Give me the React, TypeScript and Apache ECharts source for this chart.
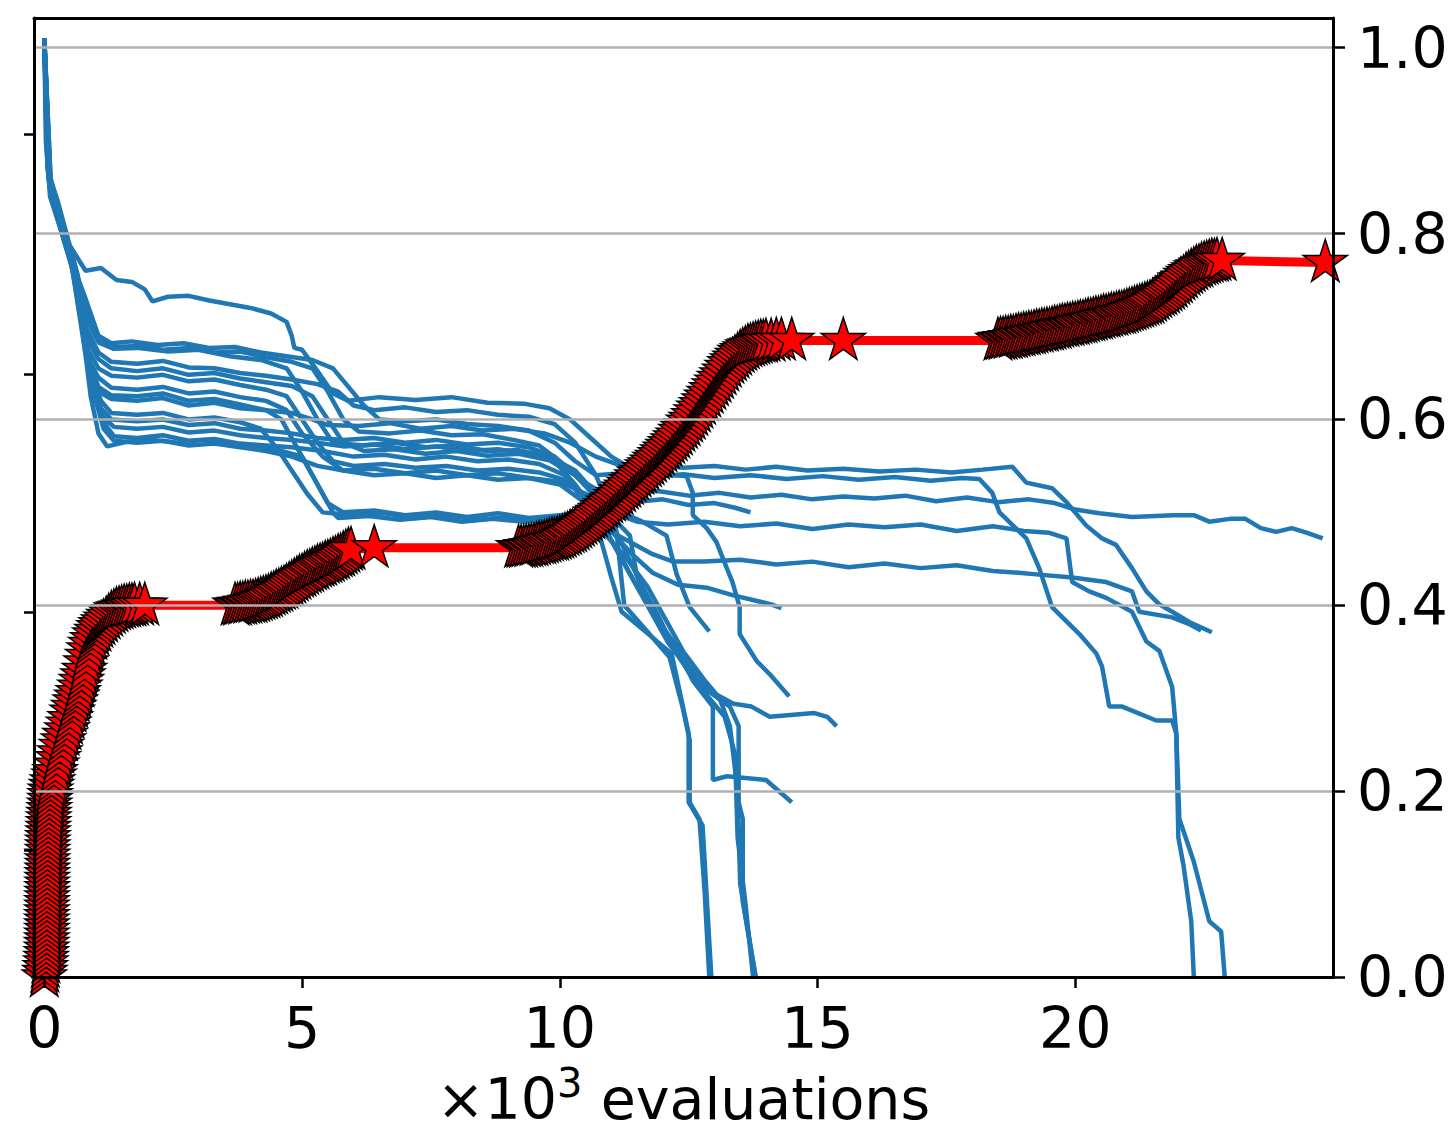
import React, { useEffect, useRef } from "react";
import * as echarts from "echarts";

// ---------- data (x in 10^3 evaluations) ----------
const xTicks = [0, 5, 10, 15, 20];
const yTicks = [0, 0.2, 0.4, 0.6, 0.8, 1.0];
const leftTicks = [0.136, 0.393, 0.649, 0.907];

const run01 = [[0,1.01],[0.03,0.9],[0.1,0.85],[0.35,0.8],[0.8,0.76],[1.1,0.763],[1.4,0.75],[1.7,0.748],[1.95,0.74],[2.1,0.727],[2.4,0.732],[2.8,0.733],[3.2,0.728],[3.6,0.724],[4.0,0.72],[4.4,0.714],[4.7,0.705],[4.8,0.69],[4.85,0.677],[5.0,0.675],[5.3,0.652],[5.6,0.628],[5.9,0.62],[6.5,0.624],[7.2,0.621],[7.9,0.624],[8.6,0.618],[9.3,0.617],[9.8,0.612],[10.2,0.6],[10.6,0.58],[11.0,0.56],[11.3,0.55],[11.8,0.553],[12.4,0.548],[13.0,0.55],[13.6,0.546],[14.2,0.549],[14.8,0.545],[15.5,0.547],[16.2,0.544],[16.9,0.546],[17.6,0.543],[18.2,0.546],[18.78,0.549],[19.05,0.532],[19.55,0.526],[19.83,0.511],[20.21,0.486],[20.52,0.472],[20.79,0.465],[21.1,0.44],[21.38,0.415],[21.63,0.401],[21.88,0.393],[22.21,0.382],[22.65,0.371]];
const run02 = [[0,1.01],[0.05,0.89],[0.11,0.84],[0.4,0.79],[0.8,0.73],[1.05,0.69],[1.3,0.682],[1.7,0.684],[2.2,0.68],[2.7,0.682],[3.2,0.677],[3.7,0.678],[4.2,0.672],[4.7,0.668],[5.2,0.664],[5.6,0.655],[5.9,0.635],[6.2,0.615],[6.5,0.6],[7.0,0.598],[7.6,0.6],[8.2,0.595],[8.8,0.593],[9.4,0.588],[9.9,0.575],[10.3,0.555],[10.7,0.54],[11.2,0.542],[11.8,0.538],[12.4,0.541],[13.0,0.537],[13.7,0.54],[14.4,0.536],[15.1,0.539],[15.8,0.535],[16.5,0.538],[17.2,0.534],[17.8,0.537],[18.14,0.536],[18.39,0.521],[18.53,0.5],[19.05,0.472],[19.3,0.44],[19.55,0.398],[20.08,0.369],[20.41,0.348],[20.52,0.334],[20.66,0.291],[20.91,0.291],[21.57,0.276],[21.88,0.276],[21.96,0.262],[22.0,0.15],[22.1,0.12],[22.25,0.06],[22.3,0]];
const run03 = [[0,1.01],[0.06,0.88],[0.14,0.84],[0.42,0.785],[0.8,0.72],[1.05,0.688],[1.35,0.678],[1.8,0.679],[2.3,0.675],[2.8,0.677],[3.3,0.672],[3.8,0.673],[4.3,0.667],[4.8,0.662],[5.2,0.655],[5.5,0.63],[5.8,0.6],[6.1,0.587],[6.7,0.585],[7.3,0.588],[7.9,0.583],[8.5,0.584],[9.1,0.578],[9.6,0.572],[10.0,0.555],[10.4,0.535],[10.8,0.522],[11.3,0.52],[11.9,0.523],[12.5,0.518],[13.1,0.521],[13.7,0.516],[14.3,0.519],[14.9,0.514],[15.5,0.517],[16.1,0.515],[16.7,0.518],[17.3,0.512],[17.9,0.516],[18.5,0.511],[19.1,0.514],[19.6,0.51],[20.0,0.503],[20.47,0.499],[21.1,0.495],[21.9,0.497],[22.3,0.497],[22.6,0.49],[23.0,0.493],[23.3,0.493],[23.6,0.483],[23.9,0.479],[24.2,0.483],[24.5,0.478],[24.8,0.472]];
const run04 = [[0,1.01],[0.08,0.87],[0.16,0.835],[0.45,0.78],[0.8,0.71],[1.05,0.683],[1.35,0.676],[1.8,0.677],[2.4,0.673],[3.0,0.675],[3.6,0.668],[4.2,0.664],[4.7,0.655],[5.0,0.63],[5.3,0.6],[5.6,0.575],[6.2,0.572],[6.8,0.575],[7.4,0.57],[8.0,0.572],[8.6,0.566],[9.2,0.567],[9.8,0.56],[10.3,0.545],[10.7,0.52],[11.0,0.49],[11.3,0.455],[11.6,0.42],[11.9,0.39],[12.2,0.355],[12.6,0.319],[12.95,0.305],[13.3,0.291],[13.47,0.27],[13.47,0.188],[13.55,0.17],[13.55,0.081],[13.8,0]];
const run05 = [[0,1.01],[0.09,0.86],[0.18,0.835],[0.48,0.78],[0.8,0.7],[1.05,0.672],[1.3,0.662],[1.8,0.66],[2.3,0.663],[2.8,0.656],[3.3,0.655],[3.8,0.65],[4.3,0.647],[4.8,0.643],[5.3,0.638],[5.7,0.63],[6.0,0.615],[6.4,0.61],[7.0,0.613],[7.6,0.608],[8.2,0.61],[8.8,0.605],[9.4,0.603],[9.9,0.595],[10.3,0.575],[10.7,0.54],[11.0,0.5],[11.1,0.479],[11.25,0.4],[11.74,0.369],[12.13,0.344],[12.38,0.291],[12.52,0.255],[12.52,0.188],[12.71,0.17],[12.81,0.092],[12.9,0]];
const run06 = [[0,1.01],[0.06,0.87],[0.16,0.84],[0.5,0.775],[0.8,0.69],[1.05,0.665],[1.3,0.655],[1.8,0.652],[2.3,0.655],[2.8,0.648],[3.3,0.65],[3.8,0.644],[4.3,0.64],[4.8,0.636],[5.2,0.625],[5.5,0.6],[5.8,0.575],[6.2,0.566],[6.8,0.568],[7.4,0.563],[8.0,0.566],[8.6,0.561],[9.2,0.563],[9.8,0.556],[10.3,0.54],[10.7,0.52],[11.2,0.5],[11.6,0.49],[12.07,0.475],[12.27,0.433],[12.52,0.398],[12.9,0.372]];
const run07 = [[0,1.01],[0.1,0.86],[0.2,0.83],[0.5,0.775],[0.8,0.68],[1.05,0.655],[1.3,0.647],[1.8,0.645],[2.3,0.648],[2.8,0.641],[3.3,0.643],[3.8,0.637],[4.3,0.632],[4.7,0.625],[5.0,0.6],[5.3,0.575],[5.6,0.555],[6.0,0.55],[6.6,0.552],[7.2,0.548],[7.8,0.55],[8.4,0.545],[9.0,0.547],[9.6,0.543],[10.1,0.535],[10.6,0.51],[11.0,0.48],[11.4,0.455],[11.8,0.435],[12.3,0.422],[12.85,0.419],[13.35,0.411],[14.1,0.401],[14.3,0.397]];
const run08 = [[0,1.01],[0.07,0.87],[0.17,0.835],[0.52,0.77],[0.8,0.67],[1.05,0.645],[1.3,0.634],[1.8,0.632],[2.3,0.635],[2.8,0.628],[3.3,0.63],[3.8,0.624],[4.3,0.62],[4.7,0.61],[5.0,0.585],[5.4,0.56],[5.8,0.545],[6.4,0.547],[7.0,0.542],[7.6,0.545],[8.2,0.54],[8.8,0.542],[9.4,0.537],[10.0,0.533],[10.5,0.52],[11.0,0.5],[11.5,0.49],[12.1,0.487],[12.8,0.49],[13.5,0.485],[14.2,0.488],[14.9,0.482],[15.6,0.487],[16.3,0.484],[17.0,0.487],[17.7,0.48],[18.4,0.485],[19.0,0.48],[19.5,0.478],[19.83,0.472],[19.94,0.425],[20.27,0.415],[20.6,0.408],[21.1,0.393],[21.38,0.361],[21.63,0.351],[21.88,0.312],[21.96,0.262],[22.02,0.17],[22.3,0.124],[22.6,0.06],[22.83,0.049],[22.9,0]];
const run09 = [[0,1.01],[0.11,0.86],[0.22,0.83],[0.55,0.77],[0.85,0.665],[1.05,0.635],[1.3,0.626],[1.8,0.625],[2.3,0.628],[2.8,0.62],[3.3,0.622],[3.8,0.616],[4.3,0.61],[4.6,0.6],[4.9,0.57],[5.2,0.54],[5.5,0.51],[5.8,0.5],[6.4,0.502],[7.0,0.497],[7.6,0.5],[8.2,0.495],[8.8,0.499],[9.4,0.494],[10.0,0.497],[10.6,0.5],[11.2,0.505],[11.6,0.512],[12.0,0.514],[12.5,0.508],[13.0,0.51],[13.4,0.505],[13.7,0.5]];
const run10 = [[0,1.01],[0.08,0.86],[0.19,0.835],[0.55,0.765],[0.85,0.66],[1.05,0.63],[1.3,0.622],[1.8,0.62],[2.3,0.623],[2.8,0.615],[3.3,0.618],[3.8,0.612],[4.3,0.61],[4.8,0.607],[5.2,0.6],[5.5,0.594],[6.1,0.593],[6.7,0.596],[7.3,0.59],[7.9,0.593],[8.5,0.588],[9.1,0.59],[9.7,0.585],[10.2,0.575],[10.7,0.56],[11.2,0.55],[11.8,0.545],[12.2,0.54],[12.46,0.539],[12.58,0.521],[12.58,0.497],[12.85,0.483],[13.04,0.468],[13.24,0.44],[13.35,0.425],[13.49,0.398],[13.49,0.369],[13.82,0.34],[14.07,0.326],[14.45,0.302]];
const run11 = [[0,1.01],[0.12,0.86],[0.24,0.835],[0.58,0.765],[0.9,0.65],[1.1,0.62],[1.3,0.607],[1.8,0.605],[2.3,0.607],[2.8,0.6],[3.3,0.602],[3.8,0.597],[4.2,0.59],[4.5,0.57],[4.8,0.545],[5.1,0.52],[5.4,0.5],[6.0,0.497],[6.6,0.499],[7.2,0.494],[7.8,0.497],[8.4,0.492],[9.0,0.495],[9.6,0.49],[10.2,0.49],[10.8,0.485],[11.3,0.47],[11.8,0.455],[12.2,0.447],[12.8,0.447],[13.5,0.449],[14.2,0.444],[14.9,0.447],[15.6,0.441],[16.3,0.445],[17.0,0.44],[17.7,0.443],[18.4,0.437],[18.9,0.435],[19.3,0.433],[19.94,0.43],[20.6,0.425],[21.1,0.415],[21.24,0.393],[21.88,0.387],[22.2,0.38],[22.44,0.373]];
const run12 = [[0,1.01],[0.1,0.85],[0.21,0.83],[0.6,0.76],[0.9,0.645],[1.1,0.612],[1.3,0.6],[1.8,0.598],[2.3,0.6],[2.8,0.594],[3.3,0.596],[3.8,0.59],[4.3,0.588],[4.8,0.585],[5.3,0.58],[5.8,0.578],[6.4,0.58],[7.0,0.575],[7.6,0.578],[8.2,0.573],[8.8,0.575],[9.4,0.57],[9.9,0.56],[10.3,0.54],[10.8,0.51],[11.1,0.49],[11.36,0.475],[11.49,0.433],[11.74,0.398],[12.27,0.355],[12.58,0.319],[12.97,0.291],[12.97,0.212],[13.24,0.216],[14.0,0.212],[14.5,0.188]];
const run13 = [[0,1.01],[0.09,0.86],[0.23,0.835],[0.6,0.76],[0.9,0.64],[1.1,0.605],[1.35,0.592],[1.8,0.59],[2.3,0.592],[2.8,0.586],[3.3,0.588],[3.8,0.583],[4.3,0.58],[4.8,0.578],[5.3,0.575],[5.8,0.571],[6.4,0.573],[7.0,0.568],[7.6,0.571],[8.2,0.566],[8.8,0.568],[9.4,0.563],[9.9,0.555],[10.3,0.53],[10.7,0.5],[11.1,0.46],[11.5,0.42],[11.9,0.385],[12.3,0.35],[12.7,0.32],[13.0,0.305],[13.37,0.294],[13.72,0.291],[14.07,0.28],[14.94,0.284],[15.19,0.28],[15.37,0.27]];
const run14 = [[0,1.01],[0.12,0.85],[0.25,0.83],[0.62,0.755],[0.95,0.635],[1.15,0.597],[1.35,0.582],[1.8,0.58],[2.3,0.583],[2.8,0.577],[3.3,0.579],[3.8,0.574],[4.3,0.572],[4.8,0.57],[5.4,0.566],[6.0,0.56],[6.6,0.562],[7.2,0.557],[7.8,0.56],[8.4,0.555],[9.0,0.557],[9.6,0.552],[10.1,0.54],[10.5,0.51],[10.8,0.47],[11.0,0.43],[11.2,0.393],[11.72,0.369],[12.17,0.348],[12.5,0.262],[12.5,0.188],[12.77,0.163],[12.94,0]];
const run15 = [[0,1.01],[0.11,0.86],[0.26,0.835],[0.65,0.755],[0.95,0.63],[1.15,0.59],[1.35,0.577],[1.8,0.575],[2.3,0.577],[2.8,0.572],[3.3,0.574],[3.8,0.57],[4.3,0.566],[4.8,0.56],[5.3,0.55],[5.8,0.545],[6.4,0.54],[7.0,0.542],[7.6,0.537],[8.2,0.54],[8.8,0.535],[9.4,0.537],[10.0,0.53],[10.5,0.51],[10.9,0.48],[11.3,0.44],[11.7,0.4],[12.1,0.36],[12.5,0.33],[12.9,0.3],[13.2,0.28],[13.4,0.24],[13.45,0.15],[13.6,0.08],[13.75,0]];
const run16 = [[0,1.01],[0.13,0.85],[0.24,0.83],[0.62,0.75],[0.9,0.625],[1.05,0.585],[1.22,0.571],[1.6,0.576],[2.1,0.578],[2.6,0.575],[3.1,0.578],[3.6,0.573],[4.1,0.57],[4.6,0.566],[5.0,0.56],[5.3,0.53],[5.6,0.5],[5.7,0.494],[6.3,0.496],[6.9,0.492],[7.5,0.495],[8.1,0.49],[8.7,0.493],[9.3,0.49],[9.9,0.494],[10.4,0.49],[10.9,0.475],[11.3,0.45],[11.7,0.42],[12.0,0.39],[12.4,0.35],[12.8,0.32],[13.1,0.3],[13.3,0.27],[13.45,0.2],[13.5,0.1],[13.8,0]];

const runs = [run01, run02, run03, run04, run05, run06, run07, run08, run09, run10, run11, run12, run13, run14, run15, run16];

// best-so-far curve, read segment by segment
const bestStart = [[0,0],[0.01,0.005],[0.02,0.01],[0.03,0.015],[0.035,0.02],[0.04,0.025],[0.045,0.03],[0.045,0.035],[0.05,0.04],[0.05,0.045],[0.05,0.05],[0.05,0.055],[0.05,0.06],[0.05,0.065],[0.05,0.07],[0.052,0.075],[0.052,0.08],[0.054,0.085],[0.054,0.09],[0.055,0.095],[0.055,0.1],[0.056,0.105],[0.057,0.11],[0.058,0.115],[0.06,0.12],[0.06,0.125],[0.062,0.13],[0.063,0.135],[0.065,0.14],[0.067,0.145],[0.07,0.15],[0.073,0.155],[0.077,0.16],[0.081,0.165],[0.086,0.17],[0.091,0.175],[0.097,0.18],[0.103,0.185],[0.11,0.19],[0.115,0.195],[0.12,0.2],[0.14,0.205],[0.16,0.21],[0.19,0.216],[0.21,0.221],[0.24,0.228],[0.27,0.235],[0.3,0.241],[0.33,0.248],[0.37,0.254],[0.4,0.26],[0.44,0.266],[0.47,0.272],[0.5,0.278],[0.54,0.285],[0.57,0.29],[0.6,0.296],[0.63,0.301],[0.66,0.306],[0.69,0.312],[0.72,0.318],[0.75,0.324],[0.78,0.33],[0.81,0.338],[0.84,0.345],[0.87,0.352],[0.9,0.358],[0.94,0.363],[0.98,0.368],[1.02,0.372],[1.06,0.376],[1.1,0.379],[1.15,0.382],[1.2,0.385],[1.25,0.388],[1.3,0.391],[1.35,0.393],[1.4,0.395],[1.45,0.396],[1.5,0.397],[1.55,0.398],[1.6,0.398],[1.65,0.399],[1.7,0.399],[1.75,0.4],[1.85,0.4],[1.95,0.4]];
const bestRise2 = [[3.7,0.4],[3.75,0.4],[3.8,0.401],[3.85,0.401],[3.9,0.402],[3.95,0.402],[4.0,0.403],[4.05,0.403],[4.1,0.404],[4.15,0.405],[4.2,0.406],[4.25,0.407],[4.3,0.408],[4.35,0.409],[4.4,0.411],[4.45,0.412],[4.5,0.414],[4.55,0.415],[4.6,0.417],[4.65,0.418],[4.7,0.42],[4.75,0.422],[4.8,0.424],[4.85,0.426],[4.9,0.428],[4.95,0.43],[5.0,0.431],[5.05,0.433],[5.1,0.435],[5.15,0.436],[5.2,0.438],[5.25,0.439],[5.3,0.441],[5.35,0.442],[5.4,0.443],[5.45,0.445],[5.5,0.446],[5.55,0.447],[5.6,0.449],[5.65,0.45],[5.7,0.452],[5.75,0.453],[5.8,0.455],[5.85,0.457],[5.9,0.459],[5.95,0.46],[6.4,0.462]];
const bestRise3 = [[9.2,0.462],[9.25,0.462],[9.3,0.462],[9.35,0.463],[9.4,0.463],[9.45,0.464],[9.5,0.464],[9.55,0.465],[9.6,0.466],[9.65,0.466],[9.7,0.467],[9.75,0.468],[9.8,0.469],[9.85,0.47],[9.9,0.47],[9.95,0.471],[10.0,0.472],[10.05,0.473],[10.1,0.475],[10.15,0.476],[10.2,0.478],[10.25,0.479],[10.3,0.481],[10.35,0.483],[10.4,0.485],[10.45,0.487],[10.5,0.489],[10.55,0.491],[10.6,0.493],[10.65,0.495],[10.7,0.498],[10.75,0.5],[10.8,0.502],[10.85,0.505],[10.9,0.507],[10.95,0.51],[11.0,0.512],[11.05,0.514],[11.1,0.517],[11.15,0.519],[11.2,0.522],[11.25,0.525],[11.3,0.527],[11.35,0.53],[11.4,0.533],[11.45,0.535],[11.5,0.538],[11.55,0.541],[11.6,0.543],[11.65,0.546],[11.7,0.549],[11.75,0.551],[11.8,0.554],[11.85,0.557],[11.9,0.559],[11.95,0.562],[12.0,0.565],[12.05,0.568],[12.1,0.571],[12.15,0.574],[12.2,0.577],[12.25,0.58],[12.3,0.583],[12.35,0.587],[12.4,0.59],[12.45,0.593],[12.5,0.597],[12.55,0.6],[12.6,0.604],[12.65,0.608],[12.7,0.612],[12.75,0.616],[12.8,0.62],[12.85,0.624],[12.9,0.628],[12.95,0.632],[13.0,0.636],[13.05,0.64],[13.1,0.644],[13.15,0.648],[13.2,0.652],[13.25,0.656],[13.3,0.66],[13.35,0.663],[13.4,0.666],[13.45,0.669],[13.5,0.672],[13.55,0.674],[13.6,0.676],[13.65,0.678],[13.7,0.679],[13.75,0.68],[13.8,0.681],[13.85,0.682],[13.9,0.683],[13.95,0.683],[14.0,0.684],[14.1,0.684],[14.2,0.685],[14.3,0.685],[14.5,0.685],[15.5,0.685]];
const bestRise4 = [[18.5,0.685],[18.55,0.686],[18.6,0.686],[18.65,0.687],[18.7,0.687],[18.75,0.688],[18.8,0.688],[18.85,0.689],[18.9,0.69],[18.95,0.69],[19.0,0.691],[19.05,0.691],[19.1,0.692],[19.15,0.692],[19.2,0.693],[19.25,0.694],[19.3,0.694],[19.35,0.695],[19.4,0.695],[19.45,0.696],[19.5,0.696],[19.55,0.697],[19.6,0.698],[19.65,0.698],[19.7,0.699],[19.75,0.7],[19.8,0.7],[19.85,0.701],[19.9,0.701],[19.95,0.702],[20.0,0.702],[20.05,0.703],[20.1,0.704],[20.15,0.704],[20.2,0.705],[20.25,0.706],[20.3,0.706],[20.35,0.707],[20.4,0.708],[20.45,0.708],[20.5,0.709],[20.55,0.71],[20.6,0.71],[20.65,0.711],[20.7,0.712],[20.75,0.712],[20.8,0.713],[20.85,0.714],[20.9,0.714],[20.95,0.715],[21.0,0.716],[21.05,0.717],[21.1,0.718],[21.15,0.719],[21.2,0.72],[21.25,0.721],[21.3,0.722],[21.35,0.723],[21.4,0.724],[21.45,0.725],[21.5,0.727],[21.55,0.729],[21.6,0.731],[21.65,0.733],[21.7,0.734],[21.75,0.736],[21.8,0.738],[21.85,0.74],[21.9,0.742],[21.95,0.745],[22.0,0.747],[22.05,0.75],[22.1,0.752],[22.15,0.755],[22.2,0.757],[22.25,0.759],[22.3,0.761],[22.35,0.763],[22.4,0.764],[22.45,0.766],[22.5,0.767],[22.55,0.768],[22.6,0.769],[22.65,0.77],[22.7,0.77],[22.75,0.771],[22.85,0.771],[24.85,0.769]];

const bestSoFar = [...bestStart, ...bestRise2, ...bestRise3, ...bestRise4];

// ---------- styling ----------
const FONT = "DejaVu Sans";
const X_MIN = -0.2;
const X_MAX = 25;
const Y_MAX = 1.032;

const starSymbol = (() => {
  const pts: string[] = [];
  for (let i = 0; i < 10; i++) {
    const r = i % 2 === 0 ? 100 : 38.1966;
    const a = -Math.PI / 2 + (i * Math.PI) / 5;
    pts.push((r * Math.cos(a)).toFixed(2) + "," + (r * Math.sin(a)).toFixed(2));
  }
  return "path://M" + pts.join("L") + "Z";
})();

export default function App() {
  const ref = useRef<HTMLDivElement>(null);
  useEffect(() => {
    if (!ref.current) return;
    const chart = echarts.init(ref.current, undefined, { renderer: "svg" });
    const blueSeries = runs.map((r, i) => ({
      type: "line",
      name: "run" + (i + 1),
      data: r,
      showSymbol: false,
      symbol: "none",
      lineStyle: { color: "#1f77b4", width: 4.5 },
      z: 2,
      silent: true,
    }));
    chart.setOption({
      animation: false,
      backgroundColor: "#ffffff",
      grid: { left: 34, right: 122, top: 18, bottom: 147, containLabel: false },
      xAxis: [
        {
          type: "value",
          position: "bottom",
          min: X_MIN,
          max: X_MAX,
          z: 11,
          axisLine: { show: true, onZero: false, lineStyle: { color: "#000", width: 3 } },
          axisTick: { show: true, customValues: xTicks, length: 11, lineStyle: { color: "#000", width: 2.5 } },
          axisLabel: {
            show: true,
            customValues: xTicks,
            margin: 22,
            fontFamily: FONT,
            fontSize: 57,
            color: "#000",
            formatter: (v: number) => String(v),
          },
          splitLine: { show: false },
          name: "{a|×10}{b|3}{a| evaluations}",
          nameLocation: "middle",
          nameGap: 86,
          nameTextStyle: {
            fontFamily: FONT,
            color: "#000",
            rich: {
              a: { fontFamily: FONT, fontSize: 57, color: "#000", lineHeight: 64, verticalAlign: "bottom" },
              b: { fontFamily: FONT, fontSize: 40, color: "#000", lineHeight: 64, verticalAlign: "top" },
            },
          },
        },
        {
          type: "value",
          position: "top",
          min: X_MIN,
          max: X_MAX,
          z: 11,
          axisLine: { show: true, onZero: false, lineStyle: { color: "#000", width: 3 } },
          axisTick: { show: false },
          axisLabel: { show: false },
          splitLine: { show: false },
        },
      ],
      yAxis: [
        {
          type: "value",
          position: "right",
          min: 0,
          max: Y_MAX,
          interval: 0.2,
          z: 10,
          axisLine: { show: true, onZero: false, lineStyle: { color: "#000", width: 3 } },
          axisTick: { show: true, customValues: yTicks, length: 12, lineStyle: { color: "#000", width: 2.5 } },
          axisLabel: {
            show: true,
            customValues: yTicks,
            margin: 24,
            fontFamily: FONT,
            fontSize: 57,
            color: "#000",
            formatter: (v: number) => v.toFixed(1),
          },
          splitLine: { show: true, lineStyle: { color: "#b0b0b0", width: 2.5 } },
        },
        {
          type: "value",
          position: "left",
          min: 0,
          max: Y_MAX,
          interval: 0.2,
          z: 11,
          axisLine: { show: true, onZero: false, lineStyle: { color: "#000", width: 3 } },
          axisTick: { show: true, customValues: leftTicks, length: 10, lineStyle: { color: "#000", width: 2.5 } },
          axisLabel: { show: false },
          splitLine: { show: false },
        },
      ],
      series: [
        ...blueSeries,
        {
          type: "line",
          name: "best",
          data: bestSoFar,
          symbol: starSymbol,
          symbolSize: 44,
          symbolKeepAspect: true,
          symbolOffset: [0, -2],
          showSymbol: true,
          showAllSymbol: true,
          clip: false,
          z: 5,
          silent: true,
          lineStyle: { color: "#ff0000", width: 9 },
          itemStyle: { color: "#ff0000", borderColor: "#000000", borderWidth: 1.5, opacity: 1 },
        },
      ],
    });
    return () => chart.dispose();
  }, []);
  return (
    <div
      ref={ref}
      style={{ position: "fixed", left: 0, top: 0, width: 1455, height: 1132, background: "#fff" }}
    />
  );
}
